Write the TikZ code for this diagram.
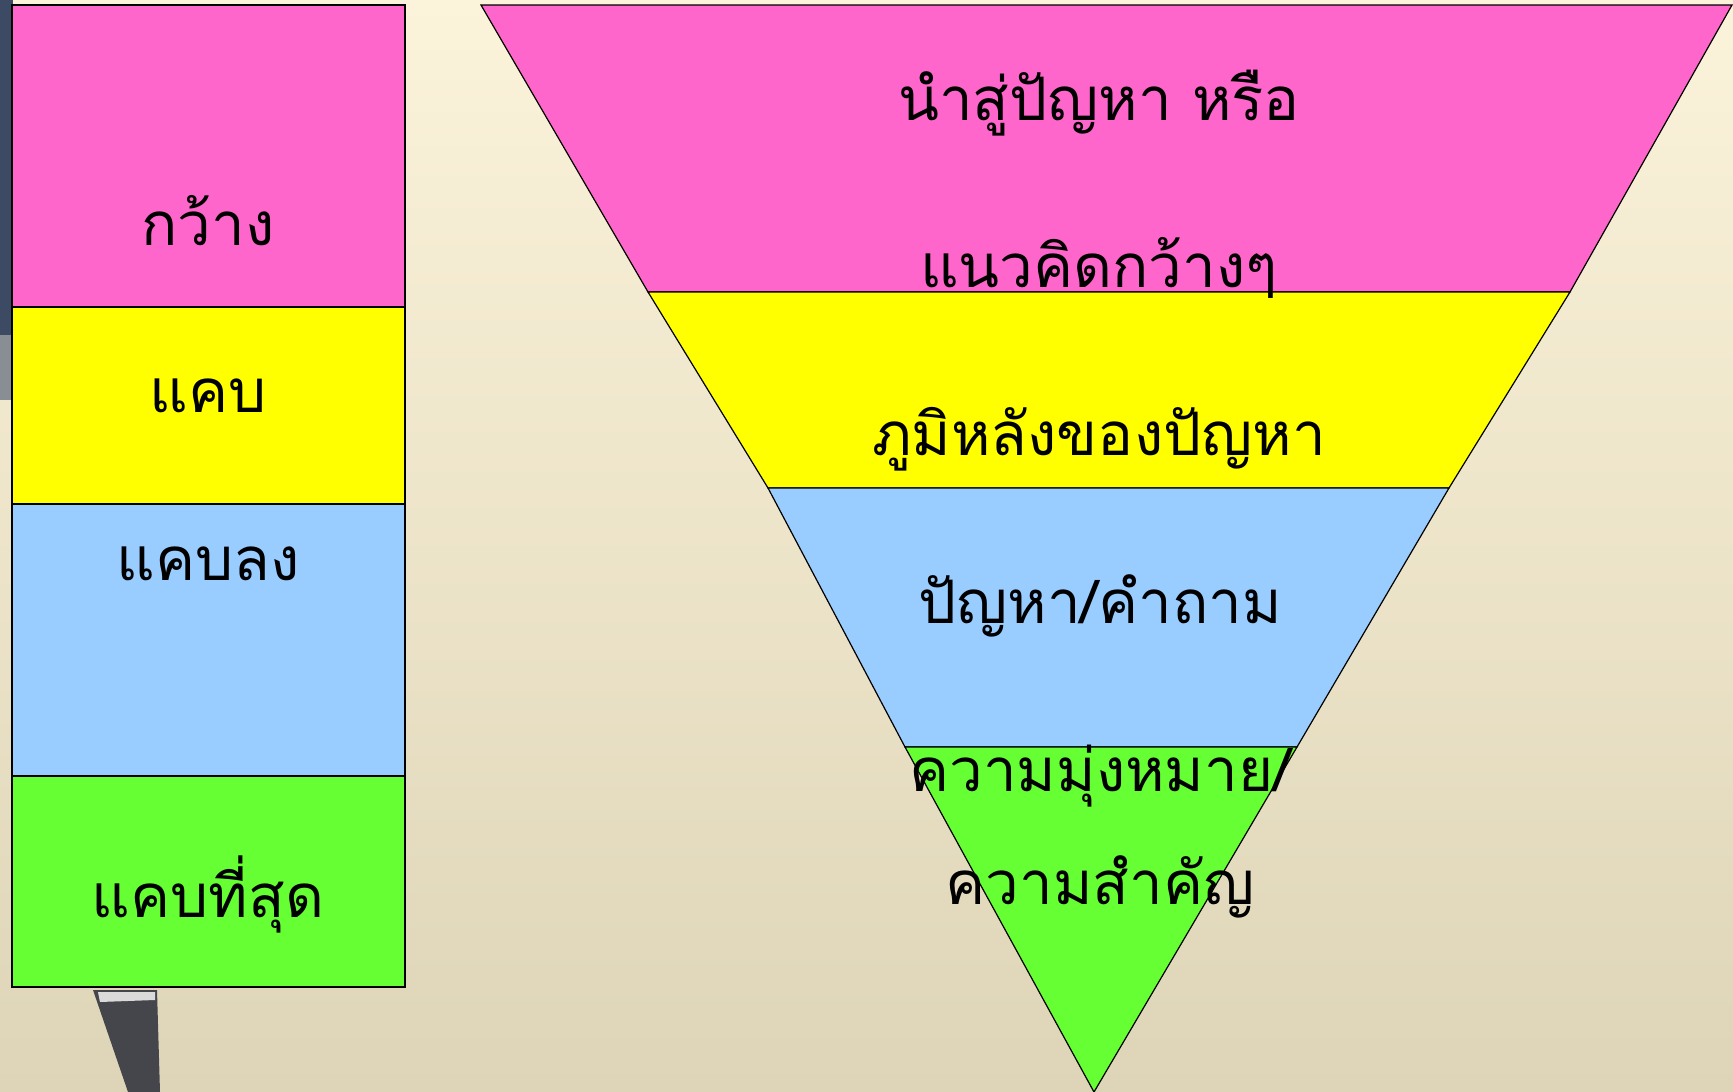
\documentclass[tikz,border=0pt]{standalone}
\usepackage{fontspec}
\newfontfamily\thaifont[Script=Thai]{Loma}
\definecolor{bgtop}{HTML}{FBF3DA}
\definecolor{bgbot}{HTML}{DED5B8}
\definecolor{cpink}{HTML}{FF66CC}
\definecolor{cyellow}{HTML}{FFFF00}
\definecolor{cblue}{HTML}{99CCFF}
\definecolor{cgreen}{HTML}{66FF33}
\definecolor{penc}{HTML}{45464C}
\definecolor{stripc}{HTML}{3C4A63}
\tikzset{
  band/.style={draw=black, line width=1.6pt, line join=miter},
  fband/.style={draw=black, line width=1.2pt, line join=miter},
  lbl/.style={anchor=base, inner sep=0pt, font=\thaifont\fontsize{60}{64}\selectfont, text=black},
}
\begin{document}
\begin{tikzpicture}[x=1pt,y=-1pt]
\begin{scope}[y=1pt]
  \shade[top color=bgtop, bottom color=bgbot] (0,-1092) rectangle (1733,0);
\end{scope}
\useasboundingbox (0,0) rectangle (1733,1092);
% background photo remnants
\fill[stripc] (0,0) rectangle (13,335);
\fill[stripc!60!bgtop] (0,335) rectangle (13,400);
\fill[penc] (93,990) -- (157,990) -- (160,1092) -- (128,1092) -- cycle;
\fill[white!80!penc] (98,992) -- (155,992) -- (155,1000) -- (100,1002) -- cycle;
% left column
\filldraw[band, fill=cpink]   (12,5)   rectangle (405,307);
\filldraw[band, fill=cyellow] (12,307) rectangle (405,504);
\filldraw[band, fill=cblue]   (12,504) rectangle (405,776);
\filldraw[band, fill=cgreen]  (12,776) rectangle (405,987);
% funnel
\filldraw[fband, fill=cpink]   (481,5) -- (1732,5) -- (1570,292) -- (648,292) -- cycle;
\filldraw[fband, fill=cyellow] (648,292) -- (1570,292) -- (1449,488) -- (768,488) -- cycle;
\filldraw[fband, fill=cblue]   (768,488) -- (1449,488) -- (1297,747) -- (905,747) -- cycle;
\filldraw[fband, fill=cgreen]  (905,747) -- (1297,747) -- (1094,1092) -- cycle;
% left labels
\node[lbl] (wide)      at (208,245) {กว้าง};
\node[lbl] (narrow)    at (208,412) {แคบ};
\node[lbl] (narrower)  at (208,580) {แคบลง};
\node[lbl] (narrowest) at (208,917) {แคบที่สุด};
% funnel labels
\node[lbl] (t1a) at (1099,120) {นำสู่ปัญหา หรือ};
\node[lbl] (t1b) at (1099,287) {แนวคิดกว้างๆ};
\node[lbl] (t2)  at (1099,455) {ภูมิหลังของปัญหา};
\node[lbl] (t3)  at (1100,623) {ปัญหา/คำถาม};
\node[lbl] (t4a) at (1100,791) {ความมุ่งหมาย/};
\node[lbl] (t4b) at (1100,904) {ความสำคัญ};
\end{tikzpicture}
\end{document}
